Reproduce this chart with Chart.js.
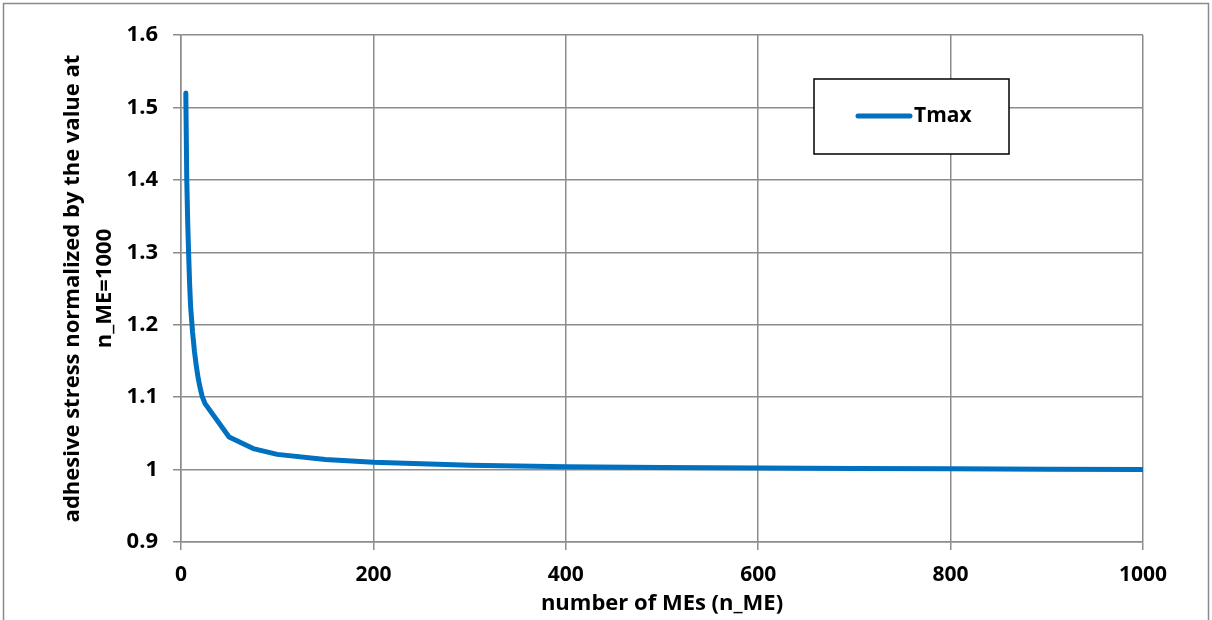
<!DOCTYPE html>
<html>
<head>
<meta charset="utf-8">
<script src="https://cdn.jsdelivr.net/npm/chart.js@4.4.1/dist/chart.umd.min.js"></script>
<style>
html,body{margin:0;padding:0;background:#fff;}
#wrap{width:1212px;height:620px;position:relative;}
</style>
</head>
<body>
<div id="wrap"><canvas id="c" width="1212" height="620"></canvas></div>
<script>
const seriesLabel = 'Tmax';
const nME = [5, 6, 7, 8, 9, 10, 12, 14, 16, 18, 20, 22, 25, 50, 75, 100, 150, 200, 300, 400, 500, 600, 700, 800, 900, 1000];
const tmax = [1.52, 1.40, 1.34, 1.295, 1.255, 1.225, 1.19, 1.163, 1.142, 1.125, 1.112, 1.101, 1.091, 1.045, 1.029, 1.021, 1.014, 1.01, 1.006, 1.004, 1.003, 1.002, 1.0015, 1.001, 1.0005, 1.0];
const xTicks = [0, 200, 400, 600, 800, 1000];
const yTicks = [0.9, 1, 1.1, 1.2, 1.3, 1.4, 1.5, 1.6];
const xTitle = 'number of MEs (n_ME)';
const yTitle = ['adhesive stress normalized by the value at', 'n_ME=1000'];

const FONT = '"Open Sans"';
const gridColor = '#8c8c8c';

const frame = {
  id: 'frame',
  beforeDraw(chart) {
    const ctx = chart.ctx;
    ctx.save();
    ctx.fillStyle = '#fff';
    ctx.fillRect(0, 0, chart.width, chart.height);
    ctx.strokeStyle = '#8a8a8a';
    ctx.lineWidth = 1.5;
    ctx.strokeRect(3.5, 3.5, 1205, 640);
    ctx.restore();
  }
};

const legendBox = {
  id: 'legendBox',
  afterDraw(chart) {
    const ctx = chart.ctx;
    const ds = chart.data.datasets[0];
    ctx.save();
    ctx.fillStyle = '#fff';
    ctx.fillRect(814, 79, 195, 75);
    ctx.strokeStyle = '#000';
    ctx.lineWidth = 1.5;
    ctx.strokeRect(814, 79, 195, 75);
    ctx.strokeStyle = ds.borderColor;
    ctx.lineWidth = 5;
    ctx.lineCap = 'round';
    ctx.beginPath();
    ctx.moveTo(858, 116);
    ctx.lineTo(910, 116);
    ctx.stroke();
    ctx.fillStyle = '#000';
    ctx.font = 'bold 21px ' + FONT;
    ctx.textBaseline = 'middle';
    ctx.textAlign = 'left';
    ctx.fillText(ds.label, 914, 116);
    ctx.restore();
  }
};

new Chart(document.getElementById('c'), {
  type: 'scatter',
  data: {
    datasets: [{
      label: seriesLabel,
      data: nME.map((x, i) => ({x: x, y: tmax[i]})),
      showLine: true,
      borderColor: '#0070C0',
      backgroundColor: '#0070C0',
      borderWidth: 5,
      pointRadius: 0,
      tension: 0,
      borderCapStyle: 'round',
      borderJoinStyle: 'round'
    }]
  },
  options: {
    responsive: false,
    animation: false,
    devicePixelRatio: 1,
    layout: {padding: {left: 0, right: 69, top: 35, bottom: 0}},
    plugins: {legend: {display: false}, tooltip: {enabled: false}},
    scales: {
      x: {
        type: 'linear',
        min: 0, max: 1000,
        afterBuildTicks(scale) { scale.ticks = xTicks.map(v => ({value: v})); },
        afterFit(scale) { scale.height = 78; },
        grid: {color: gridColor, lineWidth: 1.5, tickLength: 8, drawTicks: true, tickColor: gridColor},
        border: {color: gridColor, width: 1.5},
        ticks: {color: '#000', padding: 12, font: {family: FONT, size: 21, weight: 'bold'}, maxRotation: 0,
          callback: v => String(v)},
        title: {display: true, text: xTitle, color: '#000', font: {family: FONT, size: 22, weight: 'bold', lineHeight: 1.15}, padding: {top: 0, bottom: 4}}
      },
      y: {
        type: 'linear',
        min: 0.9, max: 1.6,
        afterBuildTicks(scale) { scale.ticks = yTicks.map(v => ({value: v})); },
        afterFit(scale) { scale.width = 181; },
        grid: {color: gridColor, lineWidth: 1.5, tickLength: 8, tickColor: gridColor},
        border: {color: gridColor, width: 1.5},
        ticks: {color: '#000', padding: 15, font: {family: FONT, size: 22, weight: 'bold'},
          callback: v => String(parseFloat(Number(v).toFixed(1)))},
        title: {display: true, text: yTitle, color: '#000', font: {family: FONT, size: 22, weight: 'bold', lineHeight: 1.45}, padding: {top: 57, bottom: 0}}
      }
    }
  },
  plugins: [frame, legendBox]
});
</script>
</body>
</html>
